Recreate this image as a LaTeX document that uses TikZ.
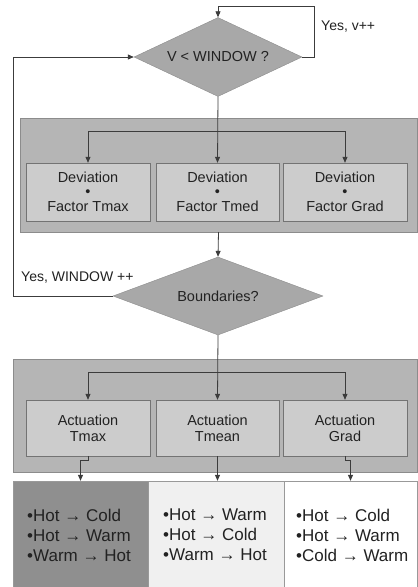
\documentclass[tikz,border=0pt]{standalone}
\usepackage{fontspec}
\setmainfont{Liberation Sans}
\usetikzlibrary{shapes.geometric,arrows.meta}
\definecolor{linegray}{HTML}{3C3C3C}
\definecolor{txt}{HTML}{222222}
\tikzset{
  decision/.style={diamond, draw=black!45, fill=black!34, inner sep=0pt,
    text=txt, font=\fontsize{14.5}{15}\selectfont},
  panel/.style={rectangle, draw=black!45, fill=black!29, inner sep=0pt},
  calcbox/.style={rectangle, draw=black!55, fill=black!20, inner sep=0pt,
    text=txt, align=center},
  rulebox/.style={rectangle, draw=black!40, inner sep=0pt},
  ruletext/.style={text=txt, align=left, inner sep=0pt,
    font=\fontsize{17}{20}\selectfont},
  flow/.style={draw=linegray, line width=0.8pt,
    -{Triangle[length=6pt,width=5pt]}},
  lbl/.style={text=txt, inner sep=0pt, font=\fontsize{14}{15}\selectfont}
}
\begin{document}
\begin{tikzpicture}[x=1pt,y=-1pt]
\useasboundingbox[fill=white] (0,0) rectangle (418,587);

% window test
\node[decision, minimum width=168pt, minimum height=79pt, shape aspect=2.1]
  (d1) at (218,57) {V < WINDOW ?};

% deviation stage
\node[panel, minimum width=397pt, minimum height=114pt] (p1) at (218.5,175) {};
\begin{scope}[every node/.append style={font=\fontsize{14.5}{14.5}\selectfont}]
\node[calcbox, minimum width=124pt, minimum height=58pt] (b1) at (88,192)
  {Deviation\\[-1pt]•\\[1pt]Factor Tmax};
\node[calcbox, minimum width=123pt, minimum height=58pt] (b2) at (217.5,192)
  {Deviation\\[-1pt]•\\[1pt]Factor Tmed};
\node[calcbox, minimum width=124pt, minimum height=58pt] (b3) at (345,192)
  {Deviation\\[-1pt]•\\[1pt]Factor Grad};
\end{scope}

% boundary test
\node[decision, minimum width=210pt, minimum height=78pt, shape aspect=2.7]
  (d2) at (218,296) {Boundaries?};

% actuation stage
\node[panel, minimum width=404pt, minimum height=113pt] (p2) at (215,415.5) {};
\begin{scope}[every node/.append style={font=\fontsize{14.5}{16}\selectfont}]
\node[calcbox, minimum width=124pt, minimum height=56pt] (b4) at (88,428)
  {Actuation\\Tmax};
\node[calcbox, minimum width=123pt, minimum height=56pt] (b5) at (217.5,428)
  {Actuation\\Tmean};
\node[calcbox, minimum width=124pt, minimum height=56pt] (b6) at (345,428)
  {Actuation\\Grad};
\end{scope}

% transition rules
\node[rulebox, fill=black!44, minimum width=135pt, minimum height=106pt] (c1) at (80.5,534) {};
\node[rulebox, fill=black!6, minimum width=136pt, minimum height=106pt] (c2) at (216,534) {};
\node[rulebox, fill=white, minimum width=133pt, minimum height=106pt] (c3) at (350.5,534) {};
\node[ruletext, anchor=west] (t1) at (27,535)
  {•Hot → Cold\\•Hot → Warm\\•Warm → Hot};
\node[ruletext, anchor=west] (t2) at (163,535)
  {•Hot → Warm\\•Hot → Cold\\•Warm → Hot};
\node[ruletext, anchor=west] (t3) at (296,535)
  {•Hot → Cold\\•Hot → Warm\\•Cold → Warm};

% junction and corner points
\coordinate (rc) at (314,57);
\coordinate (tc) at (218,6);
\coordinate (lc) at (13,296);
\coordinate (j1) at (218,131);
\coordinate (j2) at (218,372);

% loops
\draw[flow] (d1.east) -- (rc) |- (tc) -- (d1.north);
\draw[flow] (d2.west) -- (lc) |- (d1.west);
\node[lbl, anchor=west] (yv) at (321,27) {Yes, v++};
\node[lbl, anchor=west] (yw) at (21,278) {Yes, WINDOW ++};

% fan-out into deviation boxes
\draw[flow] (d1.south) -- (b2.north);
\draw[flow] (j1) -| (b1.north);
\draw[flow] (j1) -| (b3.north);

% deviation stage to boundary test
\draw[flow] (p1.south) -- (d2.north);

% fan-out into actuation boxes
\draw[flow] (d2.south) -- (b5.north);
\draw[flow] (j2) -| (b4.north);
\draw[flow] (j2) -| (b6.north);

% actuation boxes to rules
\draw[flow] (b4.south) -- ++(0,4) -| (c1.north);
\draw[flow] (b5.south) -- (b5.south |- c2.north);
\draw[flow] (b6.south) -- ++(0,4) -| (c3.north);
\end{tikzpicture}
\end{document}
